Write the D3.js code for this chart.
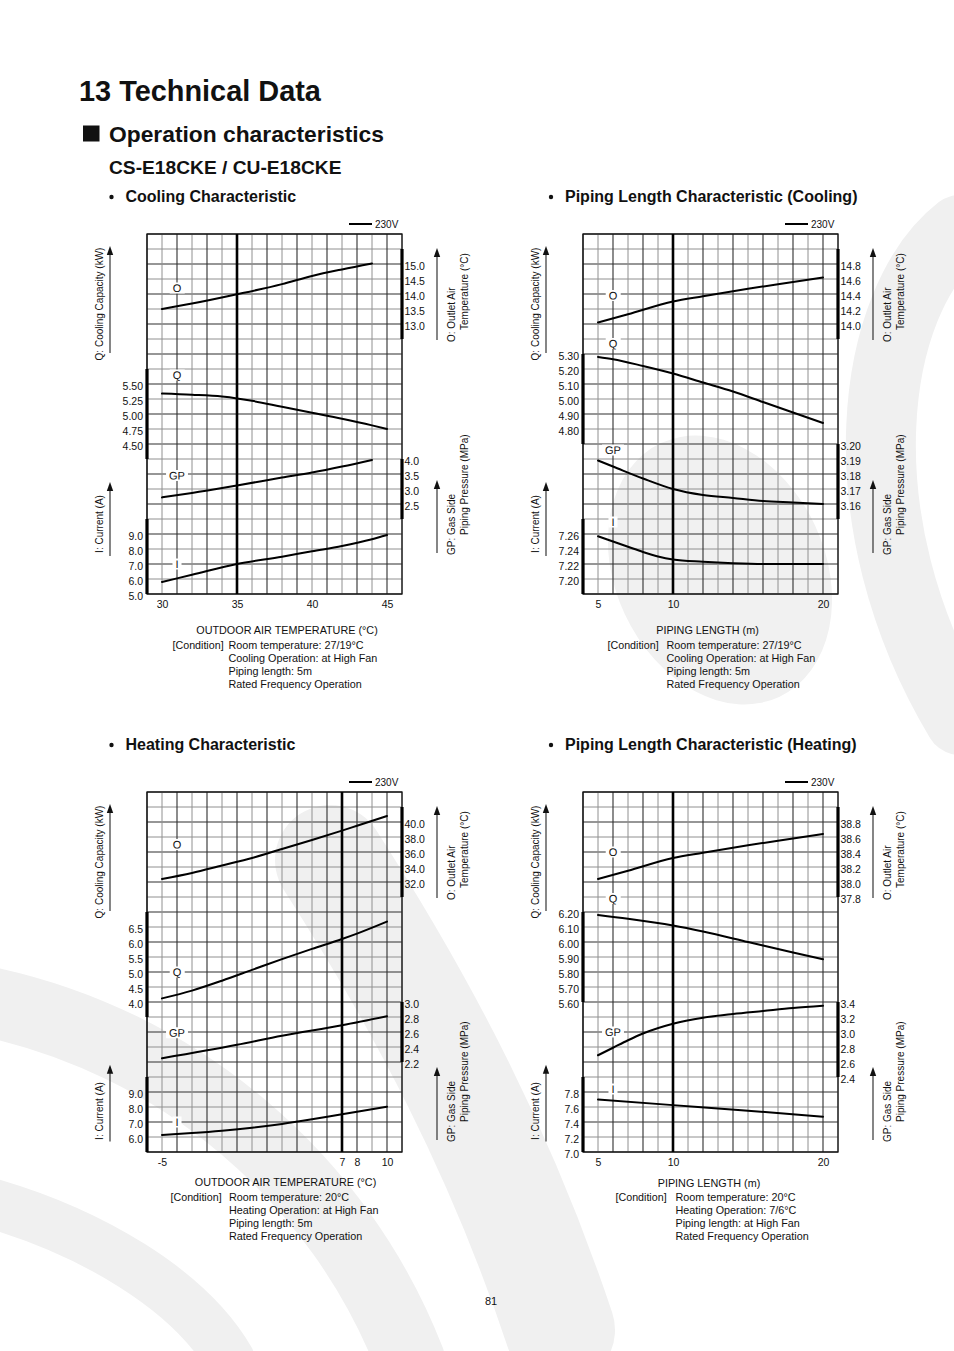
<!DOCTYPE html>
<html>
<head>
<meta charset="utf-8">
<script src="https://cdn.jsdelivr.net/npm/d3@7/dist/d3.min.js"></script>
<style>
html,body{margin:0;padding:0;background:#fff;}
svg{display:block;}
text{font-family:"Liberation Sans",Arial,Helvetica,sans-serif;fill:#111;}
</style>
</head>
<body>
<svg id="chart" width="954" height="1351"></svg>
<script>
// ================= DATA =================
// --- Cooling Characteristic (x: outdoor air temperature °C)
const coolXTicks = [30, 35, 40, 45];
const coolXTickLabels = ["30", "35", "40", "45"];
const coolO_x = [30, 32, 35, 38, 40, 42, 44];
const coolO_y = [13.5, 13.68, 13.99, 14.33, 14.6, 14.82, 15.02];
const coolQ_x = [30, 32, 34, 35, 36, 38, 40, 42, 44, 45];
const coolQ_y = [5.34, 5.32, 5.29, 5.26, 5.22, 5.12, 5.02, 4.92, 4.81, 4.75];
const coolGP_x = [30, 32, 35, 38, 40, 42, 44];
const coolGP_y = [2.72, 2.87, 3.12, 3.38, 3.55, 3.75, 3.97];
const coolI_x = [30, 32, 35, 38, 40, 42, 44, 45];
const coolI_y = [5.8, 6.28, 7.0, 7.49, 7.85, 8.2, 8.65, 8.93];
const coolO_ticks = [15.0, 14.5, 14.0, 13.5, 13.0];
const coolO_labels = ["15.0", "14.5", "14.0", "13.5", "13.0"];
const coolQ_ticks = [5.5, 5.25, 5.0, 4.75, 4.5];
const coolQ_labels = ["5.50", "5.25", "5.00", "4.75", "4.50"];
const coolGP_ticks = [4.0, 3.5, 3.0, 2.5];
const coolGP_labels = ["4.0", "3.5", "3.0", "2.5"];
const coolI_ticks = [9, 8, 7, 6, 5];
const coolI_labels = ["9.0", "8.0", "7.0", "6.0", "5.0"];

// --- Piping Length Characteristic (Cooling) (x: piping length m)
const pcXTicks = [5, 10, 20];
const pcXTickLabels = ["5", "10", "20"];
const pcO_x = [5, 7, 10, 12, 15, 18, 20];
const pcO_y = [14.02, 14.13, 14.30, 14.37, 14.47, 14.56, 14.62];
const pcQ_x = [5, 6, 8, 10, 12, 14, 16, 18, 20];
const pcQ_y = [5.28, 5.265, 5.22, 5.17, 5.11, 5.05, 4.98, 4.91, 4.84];
const pcGP_x = [5, 6, 8, 10, 12, 14, 16, 18, 20];
const pcGP_y = [3.189, 3.185, 3.177, 3.170, 3.166, 3.164, 3.162, 3.161, 3.160];
const pcI_x = [5, 6, 7, 8, 9, 10, 12, 14, 16, 18, 20];
const pcI_y = [7.257, 7.25, 7.243, 7.236, 7.230, 7.226, 7.223, 7.221, 7.220, 7.220, 7.220];
const pcO_ticks = [14.8, 14.6, 14.4, 14.2, 14.0];
const pcO_labels = ["14.8", "14.6", "14.4", "14.2", "14.0"];
const pcQ_ticks = [5.3, 5.2, 5.1, 5.0, 4.9, 4.8];
const pcQ_labels = ["5.30", "5.20", "5.10", "5.00", "4.90", "4.80"];
const pcGP_ticks = [3.20, 3.19, 3.18, 3.17, 3.16];
const pcGP_labels = ["3.20", "3.19", "3.18", "3.17", "3.16"];
const pcI_ticks = [7.26, 7.24, 7.22, 7.20];
const pcI_labels = ["7.26", "7.24", "7.22", "7.20"];

// --- Heating Characteristic (x: outdoor air temperature °C)
const heatXTicks = [-5, 7, 8, 10];
const heatXTickLabels = ["-5", "7", "8", "10"];
const heatO_x = [-5, -3, -1, 1, 3, 5, 7, 8, 10];
const heatO_y = [32.4, 33.2, 34.2, 35.2, 36.4, 37.6, 38.85, 39.5, 40.8];
const heatQ_x = [-5, -3, -1, 1, 3, 5, 7, 8, 10];
const heatQ_y = [4.12, 4.38, 4.71, 5.07, 5.43, 5.77, 6.10, 6.28, 6.68];
const heatGP_x = [-5, 0, 3, 7, 10];
const heatGP_y = [2.25, 2.43, 2.55, 2.69, 2.81];
const heatI_x = [-5, -3, -1, 1, 3, 5, 7, 8, 10];
const heatI_y = [6.13, 6.26, 6.42, 6.62, 6.87, 7.18, 7.52, 7.68, 8.02];
const heatO_ticks = [40, 38, 36, 34, 32];
const heatO_labels = ["40.0", "38.0", "36.0", "34.0", "32.0"];
const heatQ_ticks = [6.5, 6.0, 5.5, 5.0, 4.5, 4.0];
const heatQ_labels = ["6.5", "6.0", "5.5", "5.0", "4.5", "4.0"];
const heatGP_ticks = [3.0, 2.8, 2.6, 2.4, 2.2];
const heatGP_labels = ["3.0", "2.8", "2.6", "2.4", "2.2"];
const heatI_ticks = [9, 8, 7, 6];
const heatI_labels = ["9.0", "8.0", "7.0", "6.0"];

// --- Piping Length Characteristic (Heating) (x: piping length m)
const phXTicks = [5, 10, 20];
const phXTickLabels = ["5", "10", "20"];
const phO_x = [5, 7, 10, 12, 15, 18, 20];
const phO_y = [38.04, 38.15, 38.32, 38.39, 38.49, 38.58, 38.64];
const phQ_x = [5, 7, 10, 12, 15, 18, 20];
const phQ_y = [6.18, 6.155, 6.11, 6.07, 6.00, 5.93, 5.885];
const phGP_x = [5, 6, 7, 8, 10, 12, 14, 16, 18, 20];
const phGP_y = [2.69, 2.79, 2.89, 2.98, 3.11, 3.19, 3.24, 3.28, 3.32, 3.35];
const phI_x = [5, 10, 15, 20];
const phI_y = [7.70, 7.625, 7.55, 7.47];
const phO_ticks = [38.8, 38.6, 38.4, 38.2, 38.0, 37.8];
const phO_labels = ["38.8", "38.6", "38.4", "38.2", "38.0", "37.8"];
const phQ_ticks = [6.2, 6.1, 6.0, 5.9, 5.8, 5.7, 5.6];
const phQ_labels = ["6.20", "6.10", "6.00", "5.90", "5.80", "5.70", "5.60"];
const phGP_ticks = [3.4, 3.2, 3.0, 2.8, 2.6, 2.4];
const phGP_labels = ["3.4", "3.2", "3.0", "2.8", "2.6", "2.4"];
const phI_ticks = [7.8, 7.6, 7.4, 7.2, 7.0];
const phI_labels = ["7.8", "7.6", "7.4", "7.2", "7.0"];

// --- Texts
const legendLabel = "230V";
const titleQ = "Q: Cooling Capacity (kW)";
const titleI = "I: Current (A)";
const titleO = ["O: Outlet Air", "Temperature (°C)"];
const titleGP = ["GP: Gas Side", "Piping Pressure (MPa)"];
const condCool = ["Room temperature: 27/19°C", "Cooling Operation: at High Fan", "Piping length: 5m", "Rated Frequency Operation"];
const condHeat = ["Room temperature: 20°C", "Heating Operation: at High Fan", "Piping length: 5m", "Rated Frequency Operation"];
const condPipeHeat = ["Room temperature: 20°C", "Heating Operation: 7/6°C", "Piping length: at High Fan", "Rated Frequency Operation"];

// ================= LAYOUT TABLE (built from the arrays above) =================
const S = (name, xs, ys, ticks, labels, side, anchor, bar, labelRow) =>
  ({name, pts: d3.zip(xs, ys), ticks, labels, side, anchor, bar, labelRow});

const panels = [
  { title: "Cooling Characteristic", tx: 111.5, ty: 202, gx: 147, gy: 234, xStart: 29, bold: 35, labelCol: 31,
    xTicks: coolXTicks, xLabels: coolXTickLabels, xTitle: "OUTDOOR AIR TEMPERATURE (°C)", xtX: 287, xtY: 633.7,
    cond: condCool, cX1: 172.5, cX2: 228.5, cY: 648.5, gpShift: 0,
    series: [
      S("O", coolO_x, coolO_y, coolO_ticks, coolO_labels, "right", [[15.0, 2], [13.0, 6]], [1, 7], 3.6),
      S("Q", coolQ_x, coolQ_y, coolQ_ticks, coolQ_labels, "left", [[5.5, 10], [4.5, 14]], [9, 15], 9.4),
      S("GP", coolGP_x, coolGP_y, coolGP_ticks, coolGP_labels, "right", [[4.0, 15], [2.5, 18]], [15, 19], 16.1),
      S("I", coolI_x, coolI_y, coolI_ticks, coolI_labels, "left", [[9, 20], [5, 24]], [19, 24], 22)
    ]},
  { title: "Piping Length Characteristic (Cooling)", tx: 551, ty: 202, gx: 583, gy: 234, xStart: 4, bold: 10, labelCol: 6,
    xTicks: pcXTicks, xLabels: pcXTickLabels, xTitle: "PIPING LENGTH (m)", xtX: 707.5, xtY: 633.7,
    cond: condCool, cX1: 607.5, cX2: 666.5, cY: 648.5, gpShift: 0,
    series: [
      S("O", pcO_x, pcO_y, pcO_ticks, pcO_labels, "right", [[14.8, 2], [14.0, 6]], [1, 7], 4.1),
      S("Q", pcQ_x, pcQ_y, pcQ_ticks, pcQ_labels, "left", [[5.3, 8], [4.8, 13]], [8, 14], 7.3),
      S("GP", pcGP_x, pcGP_y, pcGP_ticks, pcGP_labels, "right", [[3.20, 14], [3.16, 18]], [14, 19], 14.4),
      S("I", pcI_x, pcI_y, pcI_ticks, pcI_labels, "left", [[7.26, 20], [7.20, 23]], [19, 24], 19.2)
    ]},
  { title: "Heating Characteristic", tx: 111.5, ty: 750, gx: 147, gy: 792, xStart: -6, bold: 7, labelCol: -4,
    xTicks: heatXTicks, xLabels: heatXTickLabels, xTitle: "OUTDOOR AIR TEMPERATURE (°C)", xtX: 285.5, xtY: 1186.4,
    cond: condHeat, cX1: 170.5, cX2: 229, cY: 1200.5, gpShift: 29,
    series: [
      S("O", heatO_x, heatO_y, heatO_ticks, heatO_labels, "right", [[40, 2], [32, 6]], [1, 7], 3.5),
      S("Q", heatQ_x, heatQ_y, heatQ_ticks, heatQ_labels, "left", [[6.5, 9], [4.0, 14]], [8, 15], 12),
      S("GP", heatGP_x, heatGP_y, heatGP_ticks, heatGP_labels, "right", [[3.0, 14], [2.2, 18]], [14, 18], 16.05),
      S("I", heatI_x, heatI_y, heatI_ticks, heatI_labels, "left", [[9, 20], [6, 23]], [19, 24], 22)
    ]},
  { title: "Piping Length Characteristic (Heating)", tx: 551, ty: 750, gx: 583, gy: 792, xStart: 4, bold: 10, labelCol: 6,
    xTicks: phXTicks, xLabels: phXTickLabels, xTitle: "PIPING LENGTH (m)", xtX: 709, xtY: 1187,
    cond: condPipeHeat, cX1: 615.5, cX2: 675.5, cY: 1201, gpShift: 29,
    series: [
      S("O", phO_x, phO_y, phO_ticks, phO_labels, "right", [[38.8, 2], [37.8, 7]], [1, 7], 4),
      S("Q", phQ_x, phQ_y, phQ_ticks, phQ_labels, "left", [[6.2, 8], [5.6, 14]], [8, 14], 7.1),
      S("GP", phGP_x, phGP_y, phGP_ticks, phGP_labels, "right", [[3.4, 14], [2.4, 19]], [14, 19], 16),
      S("I", phI_x, phI_y, phI_ticks, phI_labels, "left", [[7.8, 20], [7.0, 24]], [19, 24], 19.8)
    ]}
];

// ================= DRAW =================
const svg = d3.select("#chart");
const CELL = 15, NCOL = 17, NROW = 24;

// faint background watermark
const wm = svg.append("g").attr("fill", "none").attr("stroke", "#f0f0f0").attr("stroke-linecap", "round");
wm.append("path").attr("d", "M960,230 C870,300 840,520 960,720").attr("stroke-width", 70);
wm.append("ellipse").attr("cx", 720).attr("cy", 570).attr("rx", 105).attr("ry", 140)
  .attr("transform", "rotate(-25,720,570)").attr("fill", "#f1f1f1").attr("stroke", "none");
wm.append("path").attr("d", "M330,860 C420,1000 500,1150 560,1330").attr("stroke-width", 110);
wm.append("path").attr("d", "M-20,1000 C180,1040 340,1180 410,1360").attr("stroke-width", 70);
wm.append("path").attr("d", "M-20,1200 C90,1230 190,1290 230,1360").attr("stroke-width", 50);

// headings
svg.append("text").attr("x", 79).attr("y", 101).attr("font-size", 28.9).attr("font-weight", "bold").text("13 Technical Data");
svg.append("rect").attr("x", 83).attr("y", 125.5).attr("width", 16.5).attr("height", 16).attr("fill", "#111");
svg.append("text").attr("x", 109).attr("y", 141.5).attr("font-size", 22.8).attr("font-weight", "bold").text("Operation characteristics");
svg.append("text").attr("x", 109).attr("y", 174).attr("font-size", 19.2).attr("font-weight", "bold").text("CS-E18CKE / CU-E18CKE");
svg.append("text").attr("x", 491).attr("y", 1304.5).attr("text-anchor", "middle").attr("font-size", 11).text("81");

function rotText(g, x, y, str, anchor) {
  return g.append("text").attr("transform", `translate(${x},${y}) rotate(-90)`)
    .attr("text-anchor", anchor).attr("dominant-baseline", "central").attr("font-size", 10).text(str);
}
function arrow(g, x, yTip, yTail) {
  g.append("line").attr("x1", x).attr("x2", x).attr("y1", yTail).attr("y2", yTip + 6)
    .attr("stroke", "#222").attr("stroke-width", 1.1);
  g.append("path").attr("d", `M${x - 3.2},${yTip + 9} L${x},${yTip} L${x + 3.2},${yTip + 9} Z`).attr("fill", "#111");
}

panels.forEach(p => {
  const g = svg.append("g");
  const x = d3.scaleLinear().domain([p.xStart, p.xStart + NCOL]).range([p.gx, p.gx + NCOL * CELL]);
  const row = d3.scaleLinear().domain([0, NROW]).range([p.gy, p.gy + NROW * CELL]);
  const xL = x.range()[0], xR = x.range()[1];

  // panel title
  g.append("circle").attr("cx", p.tx).attr("cy", p.ty - 5).attr("r", 2.2).attr("fill", "#111");
  g.append("text").attr("x", p.tx + 14).attr("y", p.ty).attr("font-size", 16).attr("font-weight", "bold").text(p.title);

  // grid
  const cols = d3.range(0, NCOL + 1), rows = d3.range(0, NROW + 1);
  g.append("g").selectAll("line").data(rows).join("line")
    .attr("x1", xL).attr("x2", xR).attr("y1", r => row(r)).attr("y2", r => row(r))
    .attr("stroke", r => r % 2 ? "#909090" : "#2e2e2e").attr("stroke-width", r => r % 2 ? 1 : 1.1);
  g.append("g").selectAll("line").data(cols).join("line")
    .attr("y1", row(0)).attr("y2", row(NROW)).attr("x1", c => x(p.xStart + c)).attr("x2", c => x(p.xStart + c))
    .attr("stroke", c => c % 2 ? "#909090" : "#2e2e2e").attr("stroke-width", c => c % 2 ? 1 : 1.1);
  g.append("rect").attr("x", xL).attr("y", row(0)).attr("width", xR - xL).attr("height", row(NROW) - row(0))
    .attr("fill", "none").attr("stroke", "#111").attr("stroke-width", 1.3);
  g.append("line").attr("x1", x(p.bold)).attr("x2", x(p.bold)).attr("y1", row(0)).attr("y2", row(NROW))
    .attr("stroke", "#000").attr("stroke-width", 2.6);

  // x axis
  const xa = g.append("g").attr("transform", `translate(0,${row(NROW)})`)
    .call(d3.axisBottom(x).tickValues(p.xTicks).tickFormat((d, i) => p.xLabels[i]).tickSize(0).tickPadding(6.5));
  xa.select(".domain").remove();
  xa.attr("font-family", null).attr("font-size", null);
  xa.selectAll("text").attr("font-size", 10.5).attr("fill", "#111");

  g.append("text").attr("x", p.xtX).attr("y", p.xtY).attr("text-anchor", "middle").attr("font-size", 10.8).text(p.xTitle);
  g.append("text").attr("x", p.cX1).attr("y", p.cY).attr("font-size", 10.7).text("[Condition]");
  p.cond.forEach((c, i) => g.append("text").attr("x", p.cX2).attr("y", p.cY + i * 13).attr("font-size", 10.8).text(c));

  // legend
  g.append("line").attr("x1", xL + 202).attr("x2", xL + 225).attr("y1", row(0) - 10).attr("y2", row(0) - 10)
    .attr("stroke", "#000").attr("stroke-width", 2);
  g.append("text").attr("x", xL + 228).attr("y", row(0) - 10).attr("dominant-baseline", "central").attr("font-size", 10).text(legendLabel);

  // axis titles + arrows
  const gy = p.gy;
  arrow(g, xL - 37, gy + 12, gy + 119);
  rotText(g, xL - 48, gy + 70, titleQ, "middle");
  arrow(g, xR + 35, gy + 14, gy + 106);
  rotText(g, xR + 49, gy + 108, titleO[0], "start");
  rotText(g, xR + 62, gy + 96, titleO[1], "start");
  const sh = p.gpShift;
  arrow(g, xL - 37, gy + 248 + sh * 0.85, gy + 322 + sh * 0.95);
  rotText(g, xL - 48, gy + 290 + sh, titleI, "middle");
  arrow(g, xR + 35, gy + 246 + sh, gy + 319 + sh);
  rotText(g, xR + 49, gy + 321 + sh, titleGP[0], "start");
  rotText(g, xR + 62, gy + 301 + sh, titleGP[1], "start");

  // series
  p.series.forEach(s => {
    const y = d3.scaleLinear().domain([s.anchor[0][0], s.anchor[1][0]]).range([row(s.anchor[0][1]), row(s.anchor[1][1])]);
    const ax = (s.side === "right" ? d3.axisRight(y) : d3.axisLeft(y))
      .tickValues(s.ticks).tickFormat((d, i) => s.labels[i]).tickSize(0).tickPadding(s.side === "right" ? 2.5 : 4);
    const ag = g.append("g").attr("transform", `translate(${s.side === "right" ? xR : xL},0)`).call(ax);
    ag.select(".domain").remove();
    ag.attr("font-family", null).attr("font-size", null);
    ag.selectAll("text").attr("font-size", 10.5).attr("fill", "#111").attr("dy", "0.5em");
    const bx = s.side === "right" ? xR : xL;
    g.append("line").attr("x1", bx).attr("x2", bx).attr("y1", row(s.bar[0])).attr("y2", row(s.bar[1]))
      .attr("stroke", "#000").attr("stroke-width", 3.2);

    // series label with white box (tiny rotation -> grayscale antialiasing)
    const lx = x(p.labelCol), ly = row(s.labelRow);
    const lt = g.append("text").attr("x", lx).attr("y", ly)
      .attr("transform", `rotate(0.05,${lx},${ly})`)
      .attr("text-anchor", "middle").attr("dominant-baseline", "central").attr("font-size", 11).text(s.name);
    const bb = lt.node().getBBox();
    g.insert("rect", () => lt.node()).attr("x", bb.x - 3).attr("y", bb.y + 0.5)
      .attr("width", bb.width + 6).attr("height", bb.height - 1).attr("fill", "#fff");

    g.append("path").datum(s.pts)
      .attr("d", d3.line().x(d => x(d[0])).y(d => y(d[1])).curve(d3.curveMonotoneX))
      .attr("fill", "none").attr("stroke", "#000").attr("stroke-width", 2).attr("stroke-linecap", "round");
  });
});
</script>
</body>
</html>
